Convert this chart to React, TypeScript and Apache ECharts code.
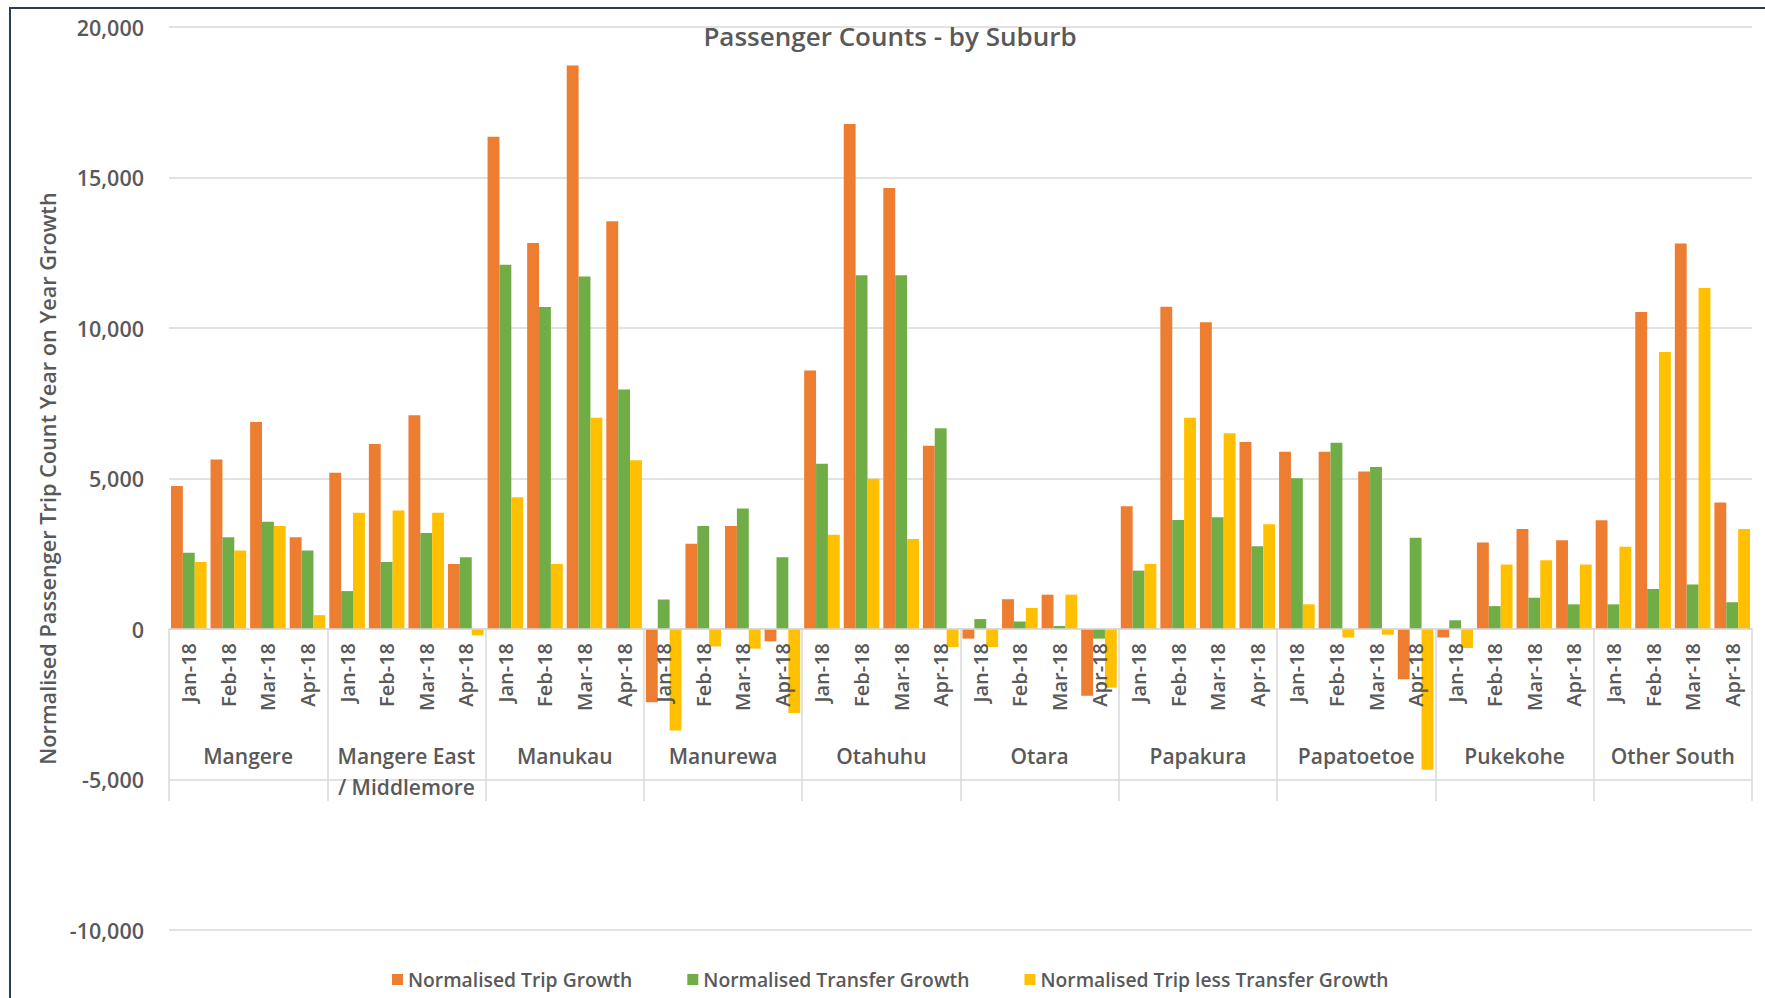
import React, { useEffect, useRef } from "react";
import * as echarts from "echarts";

const suburbs = [
  "Mangere",
  "Mangere East\n/ Middlemore",
  "Manukau",
  "Manurewa",
  "Otahuhu",
  "Otara",
  "Papakura",
  "Papatoetoe",
  "Pukekohe",
  "Other South",
];
const months = ["Jan-18", "Feb-18", "Mar-18", "Apr-18"];

const seriesNames = [
  "Normalised Trip Growth",
  "Normalised Transfer Growth",
  "Normalised Trip less Transfer Growth",
];

// values per suburb, Jan..Apr
const tripGrowth = [
  4750, 5630, 6880, 3050,
  5190, 6150, 7100, 2160,
  16350, 12820, 18720, 13550,
  -2430, 2830, 3420, -410,
  8590, 16780, 14650, 6090,
  -320, 990, 1140, -2220,
  4080, 10710, 10190, 6210,
  5890, 5890, 5230, -1670,
  -280, 2870, 3320, 2950,
  3610, 10530, 12810, 4200,
];
const transferGrowth = [
  2530, 3050, 3560, 2610,
  1260, 2230, 3190, 2380,
  12100, 10700, 11710, 7960,
  980, 3420, 4000, 2380,
  5490, 11750, 11750, 6670,
  330, 250, 100, -320,
  1940, 3620, 3710, 2750,
  5010, 6190, 5380, 3030,
  290, 760, 1040, 820,
  820, 1330, 1480, 890,
];
const tripLessTransfer = [
  2230, 2610, 3420, 460,
  3860, 3940, 3860, -210,
  4380, 2160, 7020, 5610,
  -3370, -580, -650, -2790,
  3130, 4990, 2990, -600,
  -600, 700, 1140, -1950,
  2160, 7020, 6500, 3480,
  820, -280, -190, -4680,
  -630, 2140, 2280, 2140,
  2730, 9200, 11330, 3320,
];

const yTicks = { min: -10000, max: 20000, interval: 5000 };
const colors = ["#ED7D31", "#70AD47", "#FFC000"];

const FONT = "'Open Sans', 'Noto Sans', sans-serif";
const TXT = "#595959";
const WEIGHT = 600;

const GRID_TOP = 27;
const GRID_BOTTOM = 68;
const HEIGHT = 998;

export default function App() {
  const ref = useRef<HTMLDivElement>(null);
  useEffect(() => {
    if (!ref.current) return;
    const chart = echarts.init(ref.current, null, { renderer: "svg" });
    const categories: string[] = [];
    suburbs.forEach(() => months.forEach((m) => categories.push(m)));
    const values = [tripGrowth, transferGrowth, tripLessTransfer];
    // place the category axes on the zero line of the value axis
    const plotH = HEIGHT - GRID_TOP - GRID_BOTTOM;
    const zeroFromBottom = (plotH * (0 - yTicks.min)) / (yTicks.max - yTicks.min);
    const axisOffset = -zeroFromBottom;
    chart.setOption({
      animation: false,
      backgroundColor: "#ffffff",
      textStyle: { fontFamily: FONT },
      title: {
        text: "Passenger Counts - by Suburb",
        left: 885,
        top: 18,
        textAlign: "center",
        textStyle: { fontSize: 26, fontWeight: WEIGHT, color: TXT, fontFamily: FONT },
      },
      legend: {
        data: seriesNames,
        left: 387,
        top: 965,
        itemGap: 55,
        icon: "rect",
        itemWidth: 11,
        itemHeight: 11,
        textStyle: { fontSize: 19.3, fontWeight: WEIGHT, color: TXT, fontFamily: FONT },
      },
      grid: {
        left: 169,
        right: 13,
        top: GRID_TOP,
        bottom: GRID_BOTTOM,
        containLabel: false,
        outerBoundsMode: "none",
      },
      xAxis: [
        {
          type: "category",
          data: categories,
          z: 5,
          offset: axisOffset,
          axisLine: { show: true, onZero: false, lineStyle: { color: "#D9D9D9", width: 1.5 } },
          axisTick: { show: false },
          axisLabel: {
            interval: 0,
            rotate: 90,
            margin: 14,
            fontSize: 20,
            fontWeight: WEIGHT,
            color: TXT,
            fontFamily: FONT,
          },
        },
        {
          type: "category",
          data: suburbs,
          position: "bottom",
          offset: axisOffset,
          axisLine: { show: false, onZero: false },
          axisTick: { show: true, interval: 0, length: 172, lineStyle: { color: "#D9D9D9", width: 1.5 } },
          axisLabel: {
            interval: 0,
            margin: 111,
            fontSize: 21,
            fontWeight: WEIGHT,
            lineHeight: 31,
            color: TXT,
            fontFamily: FONT,
          },
        },
      ],
      yAxis: {
        type: "value",
        min: yTicks.min,
        max: yTicks.max,
        interval: yTicks.interval,
        name: "Normalised Passenger Trip Count Year on Year Growth",
        nameLocation: "middle",
        nameGap: 110,
        nameTextStyle: { fontSize: 21.7, fontWeight: WEIGHT, color: TXT, fontFamily: FONT },
        axisLine: { show: false },
        axisTick: { show: false },
        splitLine: { lineStyle: { color: "#D9D9D9", width: 1.5 } },
        axisLabel: {
          margin: 25,
          fontSize: 21.5,
          fontWeight: WEIGHT,
          color: TXT,
          fontFamily: FONT,
          formatter: (v: number) => v.toLocaleString("en-US"),
        },
      },
      series: seriesNames.map((name, i) => ({
        name,
        type: "bar",
        xAxisIndex: 0,
        yAxisIndex: 0,
        data: values[i],
        barGap: "0%",
        barCategoryGap: "10%",
        itemStyle: { color: colors[i] },
      })),
      graphic: [
        {
          type: "rect",
          silent: true,
          shape: { x: 10, y: 8, width: 1800, height: 1100 },
          style: { fill: "none", stroke: "#2C3E55", lineWidth: 2 },
          z: 10,
        },
      ],
    });
    return () => chart.dispose();
  }, []);
  return (
    <div
      ref={ref}
      style={{ position: "fixed", left: 0, top: 0, width: 1765, height: 998, background: "#fff" }}
    />
  );
}
